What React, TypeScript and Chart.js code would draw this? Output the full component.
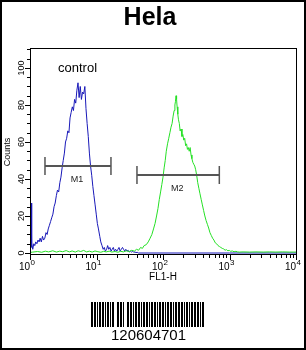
import React, { useEffect, useRef } from 'react';
import { Chart, registerables } from 'chart.js';

Chart.register(...registerables);

const chartTitle = 'Hela';
const xAxisTitle = 'FL1-H';
const yAxisTitle = 'Counts';
const sampleLabel = 'control';
const barcodeText = '120604701';

const xMajorTicks = [1, 10, 100, 1000, 10000];
const xExponents = ['0', '1', '2', '3', '4'];
const yMajorTicks = [0, 20, 40, 60, 80, 100];
const yMinorTicks = [5, 10, 15, 25, 30, 35, 45, 50, 55, 65, 70, 75, 85, 90, 95, 105, 110];

// control (blue) histogram
const blueX = [1.0, 1.0, 1.02, 1.04, 1.05, 1.07, 1.1, 1.14, 1.18, 1.22, 1.27, 1.32, 1.37, 1.42, 1.48, 1.54, 1.6, 1.67, 1.74, 1.81, 1.88, 1.96, 2.04, 2.12, 2.21, 2.3, 2.39, 2.49, 2.59, 2.7, 2.81, 2.92, 3.04, 3.16, 3.29, 3.42, 3.56, 3.7, 3.85, 4.0, 4.16, 4.33, 4.5, 4.68, 4.87, 5.07, 5.27, 5.48, 5.7, 5.93, 6.17, 6.42, 6.68, 6.95, 7.23, 7.52, 7.82, 8.14, 8.47, 8.81, 9.16, 9.53, 9.91, 10.3, 10.7, 11.2, 11.6, 12.1, 12.6, 13.1, 13.6, 14.2, 14.7, 15.3, 15.9, 16.6, 17.2, 17.9, 18.6, 19.4, 20.2, 21.0, 21.8, 22.7, 23.6, 24.6, 25.5, 26.6, 27.6, 28.7, 29.9, 31.1, 32.3, 33.6, 35.0, 36.4, 37.8, 39.3, 40.9, 42.6, 100, 1000, 10000];
const blueY = [0, 51, 4, 27, 3, 5, 2, 5, 4, 6, 5, 7, 6, 8, 6, 9, 7, 8, 11, 10, 13, 15, 17, 19, 21, 25, 27, 31, 34, 33, 38, 41, 46, 50, 54, 60, 62, 66, 65, 73, 76, 79, 77, 83, 81, 88, 92, 84, 90, 83, 87, 86, 90, 78, 70, 63, 54, 47, 42, 36, 31, 26, 21, 16, 13, 9, 6, 4, 2, 3, 1, 2, 4, 2, 3, 1, 2, 3, 1, 2, 1, 2, 3, 1, 2, 3, 2, 1, 2, 1, 1.5, 0.5, 1, 0.5, 1, 0.3, 0.6, 0.2, 0.4, 0, 0, 0, 0];

// stained (green) histogram
const greenX = [1.0, 1.1, 1.3, 1.5, 1.7, 1.9, 2.2, 2.5, 2.8, 3.1, 3.5, 3.9, 4.3, 4.8, 5.3, 5.8, 6.4, 7.1, 7.8, 8.6, 9.5, 10.5, 11.6, 12.8, 14, 15.5, 17, 19, 21, 23, 25.5, 28, 31, 34, 37, 40, 43, 46, 49, 52, 56, 60, 64, 68, 72, 76, 80, 84, 88, 92, 96, 100, 104, 108, 112, 117, 122, 127, 132, 137, 142, 147, 151, 154, 157, 160, 163, 167, 171, 176, 181, 187, 193, 199, 205, 212, 219, 226, 233, 240, 248, 256, 264, 272, 281, 290, 300, 310, 321, 333, 346, 360, 375, 391, 408, 426, 445, 465, 486, 508, 532, 557, 583, 611, 640, 672, 705, 740, 778, 817, 858, 900, 945, 992, 1040, 1100, 1170, 1250, 1330, 1400, 1600, 2000, 2500, 3200, 4000, 5000, 6300, 8000, 10000];
const greenY = [0.3, 0.5, 0.8, 0.4, 1, 0.6, 1.2, 0.5, 1, 0.7, 1.3, 0.6, 1.1, 0.5, 1.2, 0.8, 1.4, 0.6, 1, 0.5, 1.1, 0.7, 0.4, 0.9, 0.6, 1, 0.5, 0.8, 0.4, 0.9, 0.6, 1.2, 0.8, 1.5, 1, 2, 1.5, 3, 2.5, 4, 4.5, 6, 8, 10, 13, 16, 20, 24, 29, 33, 37, 41, 46, 50, 55, 59, 62, 65, 68, 70, 74, 77, 80, 82, 85, 83, 79, 75, 72, 70, 66, 67, 63, 64, 61, 62, 58, 59, 56, 57, 55, 57, 53, 51, 49, 48, 47, 45, 42, 38, 35, 32, 29, 26, 23, 20, 17.5, 15.5, 13.5, 11, 9.5, 8, 7, 5.5, 5, 4, 3.5, 3, 2.5, 2.2, 1.5, 1.8, 1.2, 1.4, 0.9, 1.1, 0.7, 0.9, 0.6, 0.5, 0.6, 0.5, 0.6, 0.5, 0.6, 0.5, 0.6, 0.5, 0.5];

// gates
const markerLabels = ['M1', 'M2'];
const markerFrom = [1.68, 40.6];
const markerTo = [16.5, 703];
const markerLevel = [47, 42];

// barcode: alternating bar / space widths (px), starting with a bar
const barcodeWidths = [
  2, 1, 2, 1, 1, 1, 2, 1, 2, 1, 1, 1, 2, 1, 1, 1,
  2, 3, 2, 1, 2, 1, 1, 3,
  2, 1, 2, 1, 1, 1, 2, 1, 2, 1, 1, 1, 2, 1, 2, 1,
  1, 1, 2, 1, 2, 1, 1, 1, 2, 1, 2, 1, 1, 1, 2, 1,
  2, 1, 1, 1, 2, 1, 2, 1, 2, 1, 1, 1, 2, 1, 1, 1,
  2, 1, 2, 1, 2, 1, 1, 1, 2,
];

const FONT = '"Liberation Sans", Arial, Helvetica, sans-serif';

const decorPlugin = {
  id: 'decor',
  afterDraw(chart: any) {
    const ctx = chart.ctx as CanvasRenderingContext2D;
    const area = chart.chartArea;
    const xs = chart.scales.x;
    const ys = chart.scales.y;
    ctx.save();

    // outer border
    ctx.strokeStyle = '#000';
    ctx.lineWidth = 2;
    ctx.strokeRect(1, 1, chart.width - 2, chart.height - 2);

    // title
    ctx.fillStyle = '#000';
    ctx.font = `bold 25px ${FONT}`;
    ctx.textAlign = 'center';
    ctx.textBaseline = 'alphabetic';
    ctx.fillText(chartTitle, 150, 25);

    // plot frame
    ctx.lineWidth = 1;
    ctx.strokeStyle = '#000';
    ctx.strokeRect(Math.round(area.left) + 0.5, Math.round(area.top) + 0.5, Math.round(area.right - area.left), Math.round(area.bottom - area.top) - 1);

    // x ticks
    const xb = Math.round(area.bottom);
    ctx.beginPath();
    xs.ticks.forEach((t: any) => {
      const px = Math.round(xs.getPixelForValue(t.value)) + 0.5;
      const major = xMajorTicks.includes(t.value);
      ctx.moveTo(px, xb);
      ctx.lineTo(px, xb + (major ? 5 : 3));
    });
    ctx.stroke();

    // x labels 10^n
    xMajorTicks.forEach((v, i) => {
      const px = xs.getPixelForValue(v);
      ctx.font = `10px ${FONT}`;
      ctx.textAlign = 'right';
      ctx.fillText('10', px, 270);
      ctx.font = `8px ${FONT}`;
      ctx.textAlign = 'left';
      ctx.fillText(xExponents[i], px + 0.5, 265);
    });

    // x title
    ctx.font = `10px ${FONT}`;
    ctx.textAlign = 'center';
    ctx.fillText(xAxisTitle, 163, 280);

    // y ticks
    const xl = Math.round(area.left);
    ctx.beginPath();
    yMajorTicks.concat(yMinorTicks).forEach((v) => {
      const py = Math.round(ys.getPixelForValue(v)) + 0.5;
      const major = yMajorTicks.includes(v);
      ctx.moveTo(xl, py);
      ctx.lineTo(xl - (major ? 5 : 3), py);
    });
    ctx.stroke();

    // y labels (rotated)
    ctx.font = `9px ${FONT}`;
    ctx.textAlign = 'center';
    ctx.textBaseline = 'middle';
    yMajorTicks.forEach((v) => {
      const py = ys.getPixelForValue(v);
      ctx.save();
      ctx.translate(21.5, py);
      ctx.rotate(-Math.PI / 2);
      ctx.fillText(String(v), 0, 0);
      ctx.restore();
    });
    ctx.save();
    ctx.translate(8, 152);
    ctx.rotate(-Math.PI / 2);
    ctx.fillText(yAxisTitle, 0, 0);
    ctx.restore();

    // sample label
    ctx.font = `13px ${FONT}`;
    ctx.textAlign = 'left';
    ctx.textBaseline = 'alphabetic';
    ctx.fillText(sampleLabel, 58, 71.5);

    // gate markers
    markerLabels.forEach((lab, i) => {
      const x1 = xs.getPixelForValue(markerFrom[i]);
      const x2 = xs.getPixelForValue(markerTo[i]);
      const py = Math.round(ys.getPixelForValue(markerLevel[i]));
      ctx.strokeStyle = '#555';
      ctx.lineWidth = 2;
      ctx.beginPath();
      ctx.moveTo(x1, py);
      ctx.lineTo(x2, py);
      ctx.stroke();
      ctx.lineWidth = 1.5;
      ctx.beginPath();
      ctx.moveTo(x1, py - 9);
      ctx.lineTo(x1, py + 9);
      ctx.moveTo(x2, py - 9);
      ctx.lineTo(x2, py + 9);
      ctx.stroke();
      const mid = xs.getPixelForValue(Math.sqrt(markerFrom[i] * markerTo[i]));
      ctx.fillStyle = '#222';
      ctx.font = `9px ${FONT}`;
      ctx.textAlign = 'center';
      ctx.textBaseline = 'middle';
      ctx.fillText(lab, mid - 1, py + 14);
    });

    // barcode
    ctx.fillStyle = '#000';
    let bx = 91;
    barcodeWidths.forEach((w, i) => {
      if (i % 2 === 0) ctx.fillRect(bx, 302, w, 25);
      bx += w;
    });
    ctx.font = `15px ${FONT}`;
    ctx.textAlign = 'center';
    ctx.textBaseline = 'alphabetic';
    ctx.fillText(barcodeText, 148.5, 340);

    ctx.restore();
  },
};

export default function App() {
  const ref = useRef<HTMLCanvasElement>(null);
  useEffect(() => {
    if (!ref.current) return;
    const allXTicks: number[] = [];
    xMajorTicks.forEach((m, i) => {
      if (i < xMajorTicks.length - 1) {
        for (let k = 1; k <= 9; k++) allXTicks.push(m * k);
      } else allXTicks.push(m);
    });
    const chart = new Chart(ref.current, {
      type: 'line',
      data: {
        datasets: [
          {
            label: 'stained',
            data: greenX.map((x, i) => ({ x, y: greenY[i] })),
            borderColor: '#25e025',
            borderWidth: 1,
            pointRadius: 0,
            tension: 0,
          },
          {
            label: 'control',
            data: blueX.map((x, i) => ({ x, y: blueY[i] })),
            borderColor: '#1818b8',
            borderWidth: 1,
            pointRadius: 0,
            tension: 0,
          },
        ],
      },
      options: {
        animation: false,
        responsive: false,
        devicePixelRatio: 1,
        layout: { padding: { left: 0, top: 48, right: 10, bottom: 65 } },
        plugins: { legend: { display: false }, tooltip: { enabled: false }, title: { display: false } },
        scales: {
          x: {
            type: 'logarithmic',
            min: 1,
            max: 10000,
            ticks: { display: false },
            grid: { display: false },
            border: { display: false },
            afterBuildTicks: (s: any) => {
              s.ticks = allXTicks.map((v) => ({ value: v }));
            },
            afterFit: (s: any) => {
              s.height = 30;
            },
          },
          y: {
            type: 'linear',
            min: -1.08,
            max: 110.8,
            ticks: { display: false },
            grid: { display: false },
            border: { display: false },
            afterFit: (s: any) => {
              s.width = 30;
            },
          },
        },
      },
      plugins: [decorPlugin],
    } as any);
    return () => chart.destroy();
  }, []);
  return (
    <div style={{ position: 'fixed', left: 0, top: 0, width: 306, height: 350, background: '#fff' }}>
      <canvas ref={ref} width={306} height={350} style={{ display: 'block', width: 306, height: 350 }} />
    </div>
  );
}
